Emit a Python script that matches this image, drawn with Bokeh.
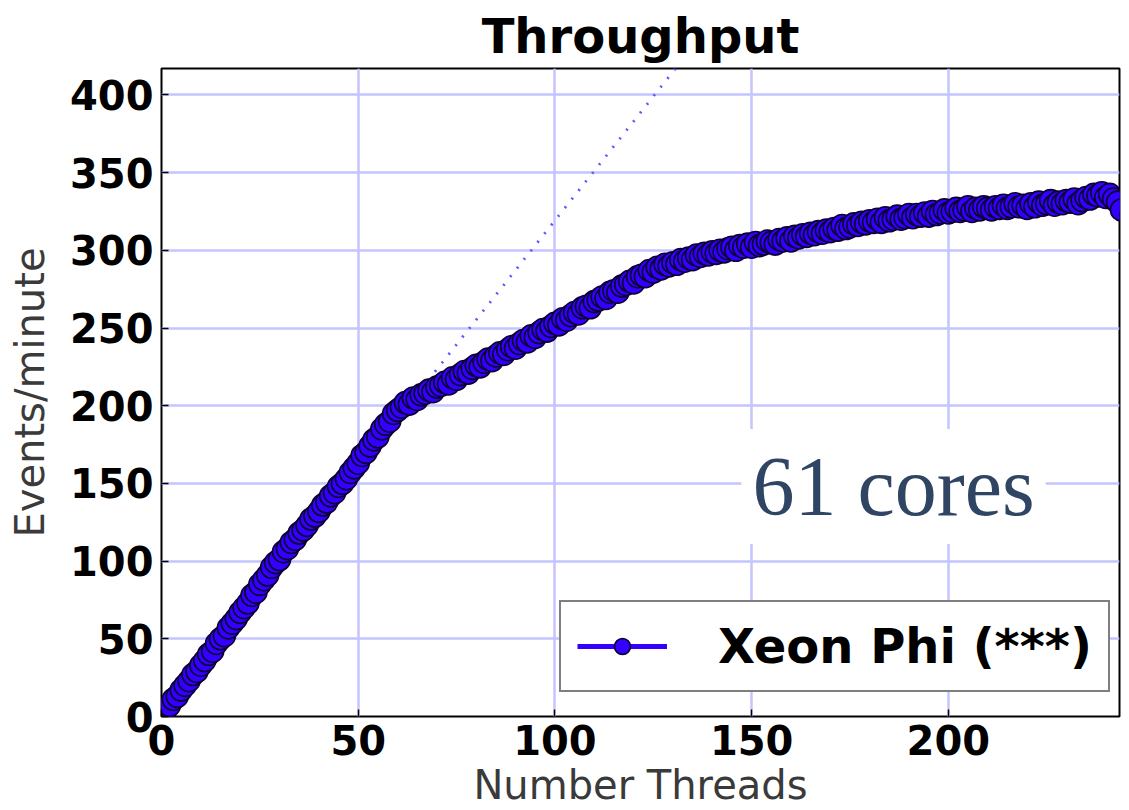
from bokeh.plotting import figure
from bokeh.models import Range1d, FixedTicker, Legend, LegendItem, Label, ColumnDataSource
from bokeh.embed import file_html
from bokeh.resources import INLINE

# ---- data ----
threads = list(range(1, 245))
events = [
    4, 7, 11, 13, 17, 20, 23, 27, 29, 33,
    36, 40, 42, 47, 50, 52, 57, 60, 63, 67,
    70, 73, 78, 80, 85, 88, 91, 96, 99, 101,
    106, 108, 112, 114, 118, 120, 123, 127, 129, 132,
    136, 138, 142, 144, 148, 150, 153, 157, 160, 163,
    168, 170, 174, 178, 180, 185, 188, 190, 195, 197,
    199, 202, 201, 205, 204, 207, 208, 210, 209, 212,
    213, 215, 214, 218, 217, 220, 222, 221, 224, 226,
    225, 228, 230, 229, 232, 234, 233, 236, 238, 237,
    240, 242, 241, 245, 244, 247, 249, 248, 251, 253,
    252, 256, 255, 258, 260, 259, 263, 264, 263, 267,
    268, 270, 269, 273, 274, 273, 277, 278, 280, 279,
    283, 284, 283, 287, 286, 289, 288, 291, 290, 292,
    291, 294, 293, 295, 294, 297, 296, 298, 297, 299,
    298, 300, 299, 301, 302, 300, 303, 302, 304, 302,
    305, 303, 304, 306, 305, 304, 307, 306, 308, 306,
    309, 308, 310, 309, 311, 310, 312, 311, 313, 312,
    314, 313, 316, 314, 315, 317, 316, 318, 317, 319,
    318, 320, 318, 321, 319, 320, 322, 320, 321, 323,
    321, 323, 322, 324, 322, 325, 323, 324, 326, 324,
    325, 327, 325, 326, 328, 325, 327, 326, 328, 327,
    326, 328, 327, 329, 327, 328, 330, 328, 329, 327,
    330, 328, 331, 329, 330, 332, 329, 331, 330, 332,
    331, 333, 330, 332, 334, 333, 336, 335, 337, 334,
    336, 333, 331, 326,
]
ideal_x = [0, 245]
ideal_y = [0, 782]

x_ticks = [0, 50, 100, 150, 200]
y_ticks = [0, 50, 100, 150, 200, 250, 300, 350, 400]

BLUE = "#3300ff"

p = figure(frame_width=958, frame_height=648, output_backend="svg", toolbar_location=None,
           x_range=Range1d(0, 243.5), y_range=Range1d(0, 417),
           min_border_left=161, min_border_right=2, min_border_top=61,
           min_border_bottom=86, title="Throughput")

p.title.text_font = "DejaVu Sans"
p.title.text_font_size = "48px"
p.title.text_font_style = "bold"
p.title.align = "center"
p.title.text_color = "black"

p.outline_line_color = "black"
p.outline_line_width = 2
p.background_fill_color = "white"

for ax in (p.xaxis[0], p.yaxis[0]):
    ax.axis_line_color = None
    ax.major_tick_in = 7
    ax.major_tick_out = 0
    ax.minor_tick_line_color = None
    ax.major_tick_line_color = "black"
    ax.major_tick_line_width = 1.5
    ax.major_label_text_font = "DejaVu Sans"
    ax.major_label_text_font_style = "bold"
    ax.major_label_text_font_size = "40px"
    ax.major_label_text_color = "black"
    ax.axis_label_text_font = "DejaVu Sans"
    ax.axis_label_text_font_style = "normal"
    ax.axis_label_text_font_size = "40px"
    ax.axis_label_text_color = "#3a3a3a"
    ax.major_label_standoff = 8

p.xaxis[0].ticker = FixedTicker(ticks=x_ticks)
p.yaxis[0].ticker = FixedTicker(ticks=y_ticks)
p.xaxis[0].axis_label = "Number Threads"
p.yaxis[0].axis_label = "Events/minute"
p.xaxis[0].axis_label_standoff = 4
p.yaxis[0].axis_label_standoff = 14

p.xgrid.ticker = FixedTicker(ticks=x_ticks)
p.ygrid.ticker = FixedTicker(ticks=y_ticks)
p.grid.grid_line_color = "#c4c4ff"
p.grid.grid_line_width = 2.5

p.line(ideal_x, ideal_y, line_color="#5a5aff", line_width=2.8, line_dash="2 9")

src = ColumnDataSource(dict(x=threads, y=events))
lr = p.line("x", "y", source=src, line_color=BLUE, line_width=5)
sr = p.scatter("x", "y", source=src, size=22, fill_color=BLUE,
               line_color="#0d0033", line_width=1.6)

lab = Label(x=147.4, y=111, text="61 cores", text_font="Liberation Serif",
            text_font_size="84px", text_color="#2f4563",
            background_fill_color="white", padding=11)
p.add_layout(lab)

legend = Legend(items=[LegendItem(label="Xeon Phi (***)", renderers=[lr, sr])],
                location=(398, 24), margin=0, padding=16, glyph_width=90,
                glyph_height=40, label_standoff=51,
                label_text_font="DejaVu Sans", label_text_font_style="bold",
                label_text_font_size="48px", label_text_color="black",
                border_line_color="black", border_line_width=2,
                background_fill_color="white", background_fill_alpha=1.0)
p.add_layout(legend, "center")

open("out.html", "w").write(file_html(p, INLINE))
